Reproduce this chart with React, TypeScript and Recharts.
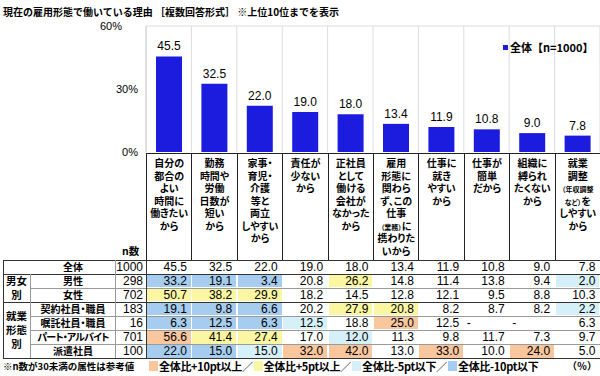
import React from 'react'
import { BarChart, Bar, XAxis, YAxis, CartesianGrid, LabelList } from 'recharts'

// categories (each line of the header cell), {...} marks small text
const categories = [
  ['自分の', '都合の', 'よい', '時間に', '働きたい', 'から'],
  ['勤務', '時間や', '労働', '日数が', '短い', 'から'],
  ['家事・', '育児・', '介護', '等と', '両立', 'しやすい', 'から'],
  ['責任が', '少ない', 'から'],
  ['正社員', 'として', '働ける', '会社が', 'なかった', 'から'],
  ['雇用', '形態に', '関わら', 'ず、この', '仕事', '{（業務）}に', '携わりた', 'いから'],
  ['仕事に', '就き', 'やすい', 'から'],
  ['仕事が', '簡単', 'だから'],
  ['組織に', '縛られ', 'たくない', 'から'],
  ['就業', '調整', '{（年収調整}', '{など）}を', 'しやすい', 'から'],
]

const totalValues = [45.5, 32.5, 22.0, 19.0, 18.0, 13.4, 11.9, 10.8, 9.0, 7.8]
const yTicks = [0, 30, 60]
const seriesName = '全体【n=1000】'

const rowLabels = ['全体', '男性', '女性', '契約社員・職員', '嘱託社員・職員', 'パート・アルバイト', '派遣社員']
const rowN = [1000, 298, 702, 183, 16, 701, 100]
const maleValues = [33.2, 19.1, 3.4, 20.8, 26.2, 14.8, 11.4, 13.8, 9.4, 2.0]
const femaleValues = [50.7, 38.2, 29.9, 18.2, 14.5, 12.8, 12.1, 9.5, 8.8, 10.3]
const contractValues = [19.1, 9.8, 6.6, 20.2, 27.9, 20.8, 8.2, 8.7, 8.2, 2.2]
const shokutakuValues = [6.3, 12.5, 6.3, 12.5, 18.8, 25.0, 12.5, null, null, 6.3]
const partValues = [56.6, 41.4, 27.4, 17.0, 12.0, 11.3, 9.8, 11.7, 7.3, 9.7]
const hakenValues = [22.0, 15.0, 15.0, 32.0, 42.0, 13.0, 33.0, 10.0, 24.0, 5.0]
const rowValues = [totalValues, maleValues, femaleValues, contractValues, shokutakuValues, partValues, hakenValues]

const groupLabels = [['男女', '別'], ['就業', '形態', '別']]
const groupRows = [[1, 3], [3, 7]]

const legendItems = ['全体比+10pt以上／', '全体比+5pt以上／', '全体比-5pt以下／', '全体比-10pt以下']

const BLUE = '#1C1CDE'
const C_UP10 = '#F9C69E'
const C_UP5 = '#FAF6A2'
const C_DN5 = '#D6F0FA'
const C_DN10 = '#A6CDF0'
const legendColors = [C_UP10, C_UP5, C_DN5, C_DN10]

const JP = '"Noto Sans CJK JP", sans-serif'
const NUM = '"Liberation Sans", Arial, sans-serif'

const COL_LEFT = 146
const COL_W = 45.4
const HEADER_TOP = 153
const ROWS_TOP = 259.5
const ROW_H = 14.1

const data = categories.map((c, i) => ({ name: c.join(''), value: totalValues[i] }))

function cellColor(v: number | null, base: number) {
  if (v == null) return 'transparent'
  const d = v - base
  if (d >= 10) return C_UP10
  if (d >= 5) return C_UP5
  if (d <= -10) return C_DN10
  if (d <= -5) return C_DN5
  return 'transparent'
}

function HeaderLine({ text }: { text: string }) {
  const parts = text.split(/[{}]/)
  return (
    <div style={{ height: 12.5 }}>
      {parts.map((p, i) =>
        i % 2 === 1 ? (
          <span key={i} style={{ fontSize: 7 }}>{p}</span>
        ) : (
          p
        )
      )}
    </div>
  )
}

const YTick = (props: any) => {
  const { x, y, payload } = props
  const dx = payload.value === 60 ? -16 : 0
  return (
    <text x={x + dx} y={y} dy={4} textAnchor="end" fontSize={11} fontFamily={NUM} fill="#000">
      {payload.value}%
    </text>
  )
}

export default function App() {
  const lineDark = '#333'
  const lineGray = '#9a9a9a'
  return (
    <div style={{ position: 'relative', width: 600, height: 376, background: '#fff', overflow: 'hidden', fontFamily: JP, color: '#000' }}>
      <style>{'body{margin:0}'}</style>
      <div style={{ position: 'absolute', left: 3, top: 5, fontSize: 10, fontWeight: 700, whiteSpace: 'nowrap', lineHeight: '14px' }}>
        現在の雇用形態で働いている理由 ［複数回答形式］ ※上位10位までを表示
      </div>

      <div style={{ position: 'absolute', left: 0, top: 0 }}>
        <BarChart width={600} height={164} data={data} margin={{ top: 26, right: 0, bottom: 12, left: 106 }}>
          <CartesianGrid
            stroke="#dcdcdc"
            verticalCoordinatesGenerator={({ offset }: any) =>
              Array.from({ length: categories.length + 1 }, (_, i) => offset.left + (i * offset.width) / categories.length)
            }
            horizontalCoordinatesGenerator={({ offset }: any) => [offset.top]}
          />
          <XAxis dataKey="name" hide />
          <YAxis
            width={40}
            domain={[0, 60]}
            ticks={yTicks}
            tick={<YTick />}
            tickLine={false}
            axisLine={{ stroke: '#d0d0d0' }}
            interval={0}
          />
          <Bar dataKey="value" name={seriesName} fill={BLUE} barSize={26} isAnimationActive={false}>
            <LabelList
              dataKey="value"
              position="top"
              offset={6}
              formatter={(v: any) => Number(v).toFixed(1)}
              style={{ fontSize: 12, fontFamily: NUM, fill: '#000' }}
            />
          </Bar>
        </BarChart>
      </div>

      {/* legend */}
      <div style={{ position: 'absolute', left: 503, top: 40, display: 'flex', alignItems: 'center', fontWeight: 700, fontSize: 11, lineHeight: '14px', whiteSpace: 'nowrap' }}>
        <span style={{ width: 5, height: 5, background: BLUE, display: 'inline-block', marginRight: 2 }} />
        <span>{seriesName}</span>
      </div>

      {/* category header cells */}
      <div style={{ position: 'absolute', left: COL_LEFT, top: HEADER_TOP, width: 600 - COL_LEFT, height: ROWS_TOP - HEADER_TOP, borderTop: '1px solid #222', boxSizing: 'border-box', background: '#fff' }}>
        {categories.map((lines, i) => (
          <div
            key={i}
            style={{
              position: 'absolute',
              left: i * COL_W,
              top: 0,
              width: COL_W,
              height: ROWS_TOP - HEADER_TOP,
              borderLeft: '1px solid #222',
              boxSizing: 'border-box',
              textAlign: 'center',
              fontSize: 10,
              fontWeight: 700,
              lineHeight: '12.5px',
              paddingTop: 3,
              fontFeatureSettings: '"palt"',
              whiteSpace: 'nowrap',
            }}
          >
            {lines.map((l, j) => (
              <HeaderLine key={j} text={l} />
            ))}
          </div>
        ))}
      </div>
      <div style={{ position: 'absolute', left: 122, top: 244, fontSize: 10.5, fontWeight: 700, lineHeight: '14px' }}>n数</div>

      {/* table body */}
      <div style={{ position: 'absolute', left: 0, top: 0 }}>
        {rowValues.map((vals, r) => {
          const top = ROWS_TOP + r * ROW_H
          const groupStart = r === 0 || groupRows.some((g) => g[0] === r)
          return (
            <React.Fragment key={r}>
              {vals.map((v, c) => (
                <div
                  key={c}
                  style={{
                    position: 'absolute',
                    left: COL_LEFT + c * COL_W + 1,
                    top: top + 1,
                    width: COL_W - 1.5,
                    height: ROW_H - 1.5,
                    background: r === 0 ? 'transparent' : cellColor(v, totalValues[c]),
                    fontFamily: NUM,
                    fontSize: 12,
                    lineHeight: `${ROW_H - 1.5}px`,
                    textAlign: v == null ? 'left' : 'right',
                    paddingRight: 4,
                    paddingLeft: 2,
                    boxSizing: 'border-box',
                  }}
                >
                  {v == null ? '-' : v.toFixed(1)}
                </div>
              ))}
              <div
                style={{
                  position: 'absolute',
                  left: 115,
                  top,
                  width: COL_LEFT - 115,
                  height: ROW_H,
                  fontFamily: NUM,
                  fontSize: 12,
                  lineHeight: `${ROW_H}px`,
                  textAlign: 'right',
                  paddingRight: 3,
                  boxSizing: 'border-box',
                }}
              >
                {rowN[r]}
              </div>
              <div
                style={{
                  position: 'absolute',
                  left: 31,
                  top,
                  width: 84,
                  height: ROW_H,
                  fontSize: 10,
                  fontWeight: 700,
                  lineHeight: `${ROW_H}px`,
                  textAlign: 'center',
                  whiteSpace: 'nowrap',
                  letterSpacing: rowLabels[r].length > 8 ? -0.9 : 0,
                  fontFeatureSettings: '"palt"',
                }}
              >
                {rowLabels[r]}
              </div>
              {/* row top line */}
              <div
                style={{
                  position: 'absolute',
                  left: groupStart ? 3 : 30,
                  top,
                  width: 600,
                  height: 0,
                  borderTop: `1px solid ${r <= 1 || groupStart ? lineDark : lineGray}`,
                }}
              />
            </React.Fragment>
          )
        })}
        {/* bottom line */}
        <div style={{ position: 'absolute', left: 3, top: ROWS_TOP + rowValues.length * ROW_H, width: 600, borderTop: `1px solid ${lineDark}` }} />
        {/* group labels */}
        {groupLabels.map((g, i) => {
          const [a, b] = groupRows[i]
          return (
            <div
              key={i}
              style={{
                position: 'absolute',
                left: 3,
                top: ROWS_TOP + a * ROW_H,
                width: 27,
                height: (b - a) * ROW_H,
                display: 'flex',
                flexDirection: 'column',
                justifyContent: 'center',
                alignItems: 'center',
                fontSize: 10.5,
                fontWeight: 700,
                lineHeight: '14px',
              }}
            >
              {g.map((l) => (
                <div key={l}>{l}</div>
              ))}
            </div>
          )
        })}
        {/* vertical lines */}
        <div style={{ position: 'absolute', left: 3, top: ROWS_TOP, height: rowValues.length * ROW_H, borderLeft: `1px solid ${lineDark}` }} />
        <div style={{ position: 'absolute', left: 30, top: ROWS_TOP + ROW_H, height: (rowValues.length - 1) * ROW_H, borderLeft: `1px solid ${lineGray}` }} />
        <div style={{ position: 'absolute', left: 115, top: ROWS_TOP, height: rowValues.length * ROW_H, borderLeft: `1px solid ${lineGray}` }} />
        <div style={{ position: 'absolute', left: COL_LEFT, top: ROWS_TOP, height: rowValues.length * ROW_H, borderLeft: `1px solid ${lineDark}` }} />
      </div>

      {/* footer */}
      <div style={{ position: 'absolute', left: 3, top: 359, fontSize: 9.5, fontWeight: 700, lineHeight: '14px', whiteSpace: 'nowrap' }}>
        ※n数が30未満の属性は参考値
      </div>
      <div style={{ position: 'absolute', left: 149, top: 359, display: 'flex', alignItems: 'center', fontSize: 11, fontWeight: 700, lineHeight: '14px', whiteSpace: 'nowrap' }}>
        {legendItems.map((t, i) => (
          <React.Fragment key={t}>
            <span style={{ display: 'inline-block', width: 9, height: 10, background: legendColors[i], marginRight: 1 }} />
            <span style={{ marginRight: 1, letterSpacing: -0.3 }}>{t}</span>
          </React.Fragment>
        ))}
      </div>
      <div style={{ position: 'absolute', left: 567, top: 359, fontSize: 10, fontWeight: 700, lineHeight: '14px', whiteSpace: 'nowrap' }}>（％）</div>
    </div>
  )
}
